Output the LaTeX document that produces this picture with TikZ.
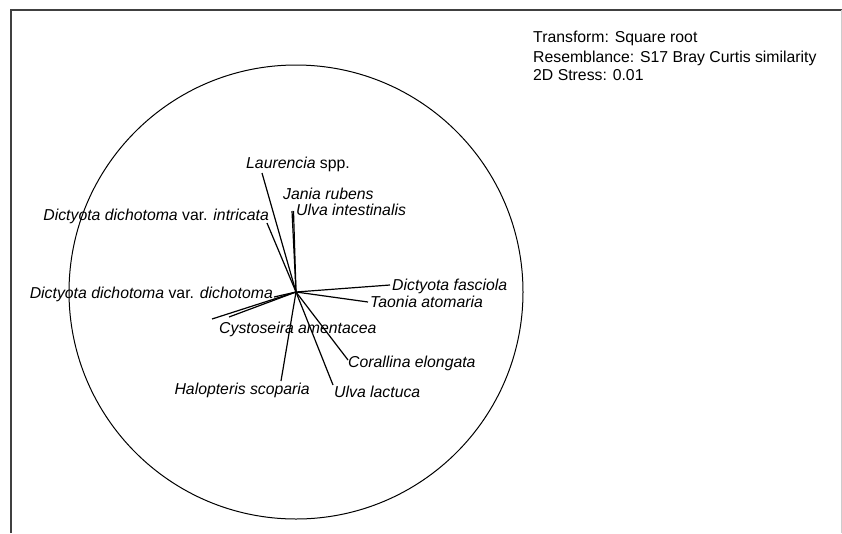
\documentclass[tikz,border=0pt]{standalone}
\usepackage{fontspec}
\setmainfont{Liberation Sans}
\begin{document}
\begin{tikzpicture}[x=1pt,y=-1pt,
  lbl/.style={inner sep=0pt,font=\fontsize{15.8}{18}\selectfont},
  vec/.style={line width=1.2pt,black},
  frame/.style={line width=1.4pt,black!75}]
\useasboundingbox (0,0) rectangle (842,533);
\draw[frame] (11,533) -- (11,10) -- (842,10);
\draw[line width=0.8pt,black!20] (841,10) -- (841,533);
\draw[line width=1pt] (296,292) circle (227);
\coordinate (c) at (296,292);
% endpoints
\coordinate (eLau) at (262,173);
\coordinate (eInt) at (267,223);
\coordinate (eJan) at (292,211);
\coordinate (eUin) at (293.5,211);
\coordinate (eDfa) at (390,285);
\coordinate (eTao) at (368,302);
\coordinate (eCor) at (348,360);
\coordinate (eUla) at (333,385);
\coordinate (eHal) at (281,381);
\coordinate (eCy1) at (212,319);
\coordinate (eCy2) at (229,317);
\coordinate (eDdi) at (274,297);
\foreach \e in {eLau,eInt,eJan,eUin,eDfa,eTao,eCor,eUla,eHal,eCy1,eCy2,eDdi}
  \draw[vec] (c) -- (\e);
% labels
\node[lbl,anchor=base west] (tLau) at (246,168) {\textit{Laurencia} spp.};
\node[lbl,anchor=base west] (tJan) at (283,199) {\textit{Jania rubens}};
\node[lbl,anchor=base west] (tUin) at (296,215) {\textit{Ulva intestinalis}};
\node[lbl,anchor=base east] (tInt) at (269,220) {\textit{Dictyota dichotoma} var. \textit{intricata}};
\node[lbl,anchor=base east] (tDdi) at (273,298) {\textit{Dictyota dichotoma} var. \textit{dichotoma}};
\node[lbl,anchor=base west] (tCys) at (219,333) {\textit{Cystoseira amentacea}};
\node[lbl,anchor=base west] (tDfa) at (392,290) {\textit{Dictyota fasciola}};
\node[lbl,anchor=base west] (tTao) at (370,307) {\textit{Taonia atomaria}};
\node[lbl,anchor=base west] (tCor) at (348,367) {\textit{Corallina elongata}};
\node[lbl,anchor=base east] (tHal) at (310,394) {\textit{Halopteris scoparia}};
\node[lbl,anchor=base west] (tUla) at (334,397) {\textit{Ulva lactuca}};
\node[lbl,anchor=base west] (h1) at (533,42) {Transform: Square root};
\node[lbl,anchor=base west] (h2) at (533,62) {Resemblance: S17 Bray Curtis similarity};
\node[lbl,anchor=base west] (h3) at (533,80) {2D Stress: 0.01};
\end{tikzpicture}
\end{document}
